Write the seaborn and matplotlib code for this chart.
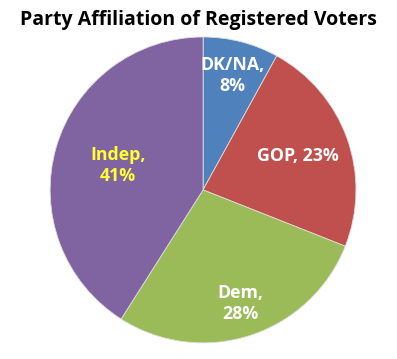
import matplotlib
matplotlib.use("Agg")
import matplotlib.pyplot as plt
import seaborn as sns
import numpy as np

sns.set_style("white")
plt.rcParams['font.family'] = ['Open Sans', 'DejaVu Sans']

# Data
parties = ['DK/NA', 'GOP', 'Dem', 'Indep']
shares = [8, 23, 28, 41]
colors = ['#4F81BD', '#C0504D', '#9BBB59', '#8064A2']
label_colors = ['white', 'white', 'white', '#FFFF33']
label_texts = ['DK/NA,\n8%', 'GOP, 23%', 'Dem,\n28%', 'Indep,\n41%']
label_dist = [0.77, 0.66, 0.78, 0.58]

fig = plt.figure(figsize=(3.97, 3.59), dpi=100)
ax = fig.add_axes([0.126, 0.045, 0.771, 0.852])

wedges, _ = ax.pie(shares, colors=colors, startangle=90, counterclock=False,
                   wedgeprops=dict(edgecolor='#dddddd', linewidth=0.6))

for w, txt, c, d in zip(wedges, label_texts, label_colors, label_dist):
    ang = np.deg2rad((w.theta1 + w.theta2) / 2)
    ax.text(d * np.cos(ang), d * np.sin(ang), txt, ha='center', va='center',
            color=c, fontsize=12.8, fontweight='bold', linespacing=1.2)

ax.set_xlim(-1, 1)
ax.set_ylim(-1, 1)
ax.set_aspect('equal')

fig.text(0.5, 0.945, 'Party Affiliation of Registered Voters', ha='center', va='center',
         fontsize=14, fontweight='bold', color='black')

fig.savefig('out.png', dpi=100)
